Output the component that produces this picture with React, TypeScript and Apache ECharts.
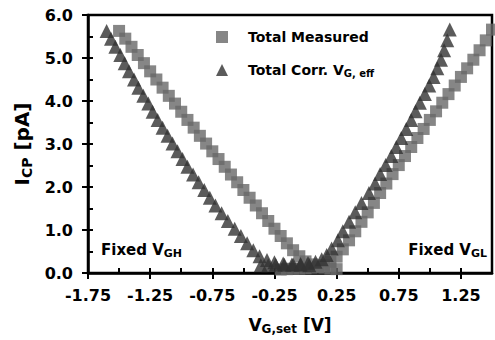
import React, { useEffect, useRef } from "react";
import * as echarts from "echarts";

// Sweep with V_GH held fixed (left branch): set voltage, corrected effective voltage, currents [pA]
const ghSetV = [-1.5, -1.45, -1.4, -1.35, -1.3, -1.25, -1.2, -1.15, -1.1, -1.05, -1.0, -0.95, -0.9, -0.85, -0.8, -0.75, -0.7, -0.65, -0.6, -0.55, -0.5, -0.45, -0.4, -0.35, -0.3, -0.25, -0.2, -0.15, -0.1, -0.05, 0.0, 0.05, 0.1, 0.15, 0.2, 0.25];
const ghMeasI = [5.63, 5.45, 5.26, 5.07, 4.88, 4.69, 4.5, 4.31, 4.12, 3.94, 3.75, 3.56, 3.38, 3.19, 3.01, 2.83, 2.65, 2.47, 2.29, 2.11, 1.93, 1.75, 1.57, 1.39, 1.21, 1.03, 0.86, 0.69, 0.53, 0.39, 0.27, 0.2, 0.15, 0.12, 0.1, 0.09];
const ghEffV = [-1.6, -1.565, -1.53, -1.49, -1.455, -1.42, -1.38, -1.345, -1.305, -1.265, -1.23, -1.19, -1.15, -1.11, -1.07, -1.03, -0.99, -0.95, -0.905, -0.86, -0.815, -0.77, -0.725, -0.675, -0.625, -0.57, -0.52, -0.47, -0.42, -0.37, -0.31, -0.25, -0.18, -0.11, -0.04, 0.03];
const ghCorrI = [5.63, 5.45, 5.26, 5.07, 4.88, 4.69, 4.5, 4.31, 4.12, 3.94, 3.75, 3.56, 3.38, 3.19, 3.01, 2.83, 2.65, 2.47, 2.29, 2.11, 1.93, 1.75, 1.57, 1.39, 1.21, 1.03, 0.86, 0.69, 0.53, 0.39, 0.3, 0.25, 0.22, 0.2, 0.19, 0.18];

// Sweep with V_GL held fixed (right branch)
const glSetV = [-0.2, -0.15, -0.1, -0.05, 0.0, 0.05, 0.1, 0.15, 0.2, 0.25, 0.3, 0.35, 0.4, 0.45, 0.5, 0.55, 0.6, 0.65, 0.7, 0.75, 0.8, 0.85, 0.9, 0.95, 1.0, 1.05, 1.1, 1.15, 1.2, 1.25, 1.3, 1.35, 1.4, 1.45, 1.5];
const glMeasI = [0.08, 0.09, 0.1, 0.1, 0.11, 0.12, 0.14, 0.18, 0.26, 0.38, 0.55, 0.76, 0.97, 1.19, 1.41, 1.63, 1.86, 2.08, 2.3, 2.51, 2.72, 2.93, 3.14, 3.35, 3.56, 3.76, 3.96, 4.16, 4.36, 4.56, 4.76, 4.96, 5.18, 5.41, 5.66];
const glEffV = [-0.36, -0.3, -0.24, -0.17, -0.1, -0.04, 0.02, 0.08, 0.13, 0.17, 0.21, 0.26, 0.3, 0.35, 0.4, 0.45, 0.51, 0.56, 0.6, 0.645, 0.69, 0.73, 0.77, 0.81, 0.85, 0.885, 0.92, 0.96, 0.995, 1.03, 1.06, 1.09, 1.115, 1.14, 1.16];
const glCorrI = [0.18, 0.18, 0.19, 0.19, 0.2, 0.21, 0.23, 0.26, 0.32, 0.42, 0.57, 0.76, 0.97, 1.19, 1.41, 1.63, 1.86, 2.08, 2.3, 2.51, 2.72, 2.93, 3.14, 3.35, 3.56, 3.76, 3.96, 4.16, 4.36, 4.56, 4.76, 4.96, 5.18, 5.41, 5.66];

// Axis ticks
const xLabelTicks = [-1.75, -1.25, -0.75, -0.25, 0.25, 0.75, 1.25];
const xMinorTicks = [-1.75, -1.5, -1.25, -1.0, -0.75, -0.5, -0.25, 0.0, 0.25, 0.5, 0.75, 1.0, 1.25, 1.5];
const yLabelTicks = [0, 1, 2, 3, 4, 5, 6];
const yMinorTicks = [0, 0.5, 1, 1.5, 2, 2.5, 3, 3.5, 4, 4.5, 5, 5.5, 6];

const MEASURED = "Total Measured";
const CORRECTED = "Total Corr. VG, eff";

const FONT = "DejaVu Sans";

const zip = (xs: number[], ys: number[]) => xs.map((x, i) => [x, ys[i]]);

// Main text plus a lowered, smaller subscript token
const rich = (size: number, subSize: number, subDrop: number) => ({
  m: { fontFamily: FONT, fontWeight: "bold", fontSize: size, color: "#000", fill: "#000" },
  s: {
    fontFamily: FONT,
    fontWeight: "bold",
    fontSize: subSize,
    color: "#000",
    fill: "#000",
    padding: [subDrop, 0, 0, 0],
  },
});

const axisLine = { show: true, onZero: false, lineStyle: { color: "#000", width: 2.5 } };
const tickLine = { color: "#000", width: 2 };

export default function App() {
  const ref = useRef<HTMLDivElement>(null);

  useEffect(() => {
    if (!ref.current) return;
    const chart = echarts.init(ref.current, undefined, { renderer: "svg" });

    const legendBase = {
      orient: "vertical",
      left: 216,
      padding: 0,
      itemWidth: 12,
      itemHeight: 12,
      selectedMode: false,
      textStyle: { padding: [0, 0, 0, 15], rich: rich(14, 10, 7) },
      formatter: (name: string) =>
        name === CORRECTED ? "{m|Total Corr. V}{s|G, eff}" : "{m|" + name + "}",
    };

    chart.setOption({
      animation: false,
      backgroundColor: "#fff",
      grid: {
        left: 88,
        right: 3,
        top: 15,
        bottom: 64,
        show: true,
        borderColor: "#000",
        borderWidth: 2.5,
      },
      legend: [
        { ...legendBase, top: 30, data: [MEASURED] },
        { ...legendBase, top: 63, data: [CORRECTED] },
      ],
      xAxis: [
        {
          type: "value",
          min: -1.75,
          max: 1.5,
          position: "bottom",
          axisLine,
          axisTick: { show: true, inside: true, length: 5, lineStyle: tickLine, customValues: xMinorTicks },
          axisLabel: { show: false },
          splitLine: { show: false },
        },
        {
          type: "value",
          min: -1.75,
          max: 1.5,
          position: "bottom",
          axisLine: { show: false, onZero: false },
          axisTick: { show: true, inside: false, length: 6, lineStyle: tickLine, customValues: xLabelTicks },
          axisLabel: {
            show: true,
            customValues: xLabelTicks,
            formatter: (v: number) => v.toFixed(2),
            margin: 14,
            fontFamily: FONT,
            fontWeight: "bold",
            fontSize: 16,
            color: "#000",
          },
          splitLine: { show: false },
          name: "{m|V}{s|G,set}{m| [V]}",
          nameLocation: "middle",
          nameGap: 42,
          nameTextStyle: { rich: rich(17, 12, 8) },
        },
      ],
      yAxis: [
        {
          type: "value",
          min: 0,
          max: 6,
          position: "left",
          axisLine,
          axisTick: { show: true, inside: true, length: 5, lineStyle: tickLine, customValues: yMinorTicks },
          axisLabel: { show: false },
          splitLine: { show: false },
        },
        {
          type: "value",
          min: 0,
          max: 6,
          interval: 1,
          position: "left",
          axisLine: { show: false, onZero: false },
          axisTick: { show: true, inside: false, length: 6, lineStyle: tickLine, customValues: yLabelTicks },
          axisLabel: {
            show: true,
            formatter: (v: number) => v.toFixed(1),
            margin: 15,
            fontFamily: FONT,
            fontWeight: "bold",
            fontSize: 16,
            color: "#000",
          },
          splitLine: { show: false },
          name: "{m|I}{s|CP}{m| [pA]}",
          nameLocation: "middle",
          nameGap: 54,
          nameTextStyle: { rich: rich(20, 14, 9) },
        },
      ],
      graphic: [
        {
          type: "text",
          left: 101,
          top: 242,
          style: { text: "{m|Fixed V}{s|GH}", rich: rich(15, 11, 7) },
        },
        {
          type: "text",
          right: 8,
          top: 242,
          style: { text: "{m|Fixed V}{s|GL}", rich: rich(15, 11, 7) },
        },
      ],
      series: [
        {
          name: MEASURED,
          type: "scatter",
          xAxisIndex: 0,
          yAxisIndex: 0,
          symbol: "rect",
          symbolSize: 12,
          itemStyle: { color: "#686868" },
          data: [...zip(ghSetV, ghMeasI), ...zip(glSetV, glMeasI)],
        },
        {
          name: CORRECTED,
          type: "scatter",
          xAxisIndex: 0,
          yAxisIndex: 0,
          symbol: "triangle",
          symbolSize: 14,
          itemStyle: { color: "#323232" },
          data: [...zip(ghEffV, ghCorrI), ...zip(glEffV, glCorrI)],
        },
      ],
    });

    return () => chart.dispose();
  }, []);

  return (
    <div
      ref={ref}
      style={{ position: "absolute", left: 0, top: 0, width: 495, height: 340, background: "#fff" }}
    />
  );
}
